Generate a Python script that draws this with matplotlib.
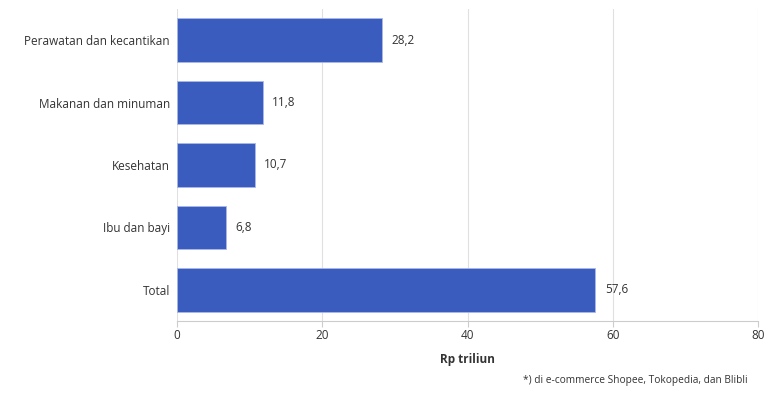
import matplotlib
matplotlib.use("Agg")
import matplotlib.pyplot as plt

plt.rcParams['font.family'] = ['Open Sans', 'DejaVu Sans']

categories = ["Perawatan dan kecantikan", "Makanan dan minuman", "Kesehatan", "Ibu dan bayi", "Total"]
values = [28.2, 11.8, 10.7, 6.8, 57.6]
value_labels = ["28,2", "11,8", "10,7", "6,8", "57,6"]
x_ticks = [0, 20, 40, 60, 80]

fig = plt.figure(figsize=(7.83, 4.05), dpi=100)
ax = fig.add_axes([177/783, 1 - 321/405, (758 - 177)/783, (321 - 9)/405])

y = list(range(len(categories)))
bars = ax.barh(y, values, height=0.7, color='#3a5cbe', edgecolor='#aab8e6', linewidth=0.6, zorder=3)
for yi, v, lab in zip(y, values, value_labels):
    ax.text(v + 1.3, yi, lab, va='center', ha='left', fontsize=8.5, color='#333333')

ax.set_ylim(len(categories) - 0.5, -0.5)
ax.set_xlim(0, 80)
ax.set_yticks(y)
ax.set_yticklabels(categories, fontsize=8.5, color='#333333')
ax.set_xticks(x_ticks)
ax.set_xticklabels([str(t) for t in x_ticks], fontsize=8.5, color='#333333')
ax.tick_params(axis='y', length=0, pad=5)
ax.tick_params(axis='x', length=4, color='#cccccc', pad=2)
ax.grid(axis='x', color='#e0e0e0', linewidth=0.8, zorder=0)
for s in ['top', 'right', 'left']:
    ax.spines[s].set_visible(False)
ax.spines['bottom'].set_color('#cccccc')
ax.set_xlabel("Rp triliun", fontsize=8.5, fontweight='bold', color='#333333', labelpad=8)

fig.text(748/783, 1 - 380/405, "*) di e-commerce Shopee, Tokopedia, dan Blibli",
         ha='right', va='center', fontsize=7.3, color='#333333')

fig.savefig("out.png", dpi=100)
